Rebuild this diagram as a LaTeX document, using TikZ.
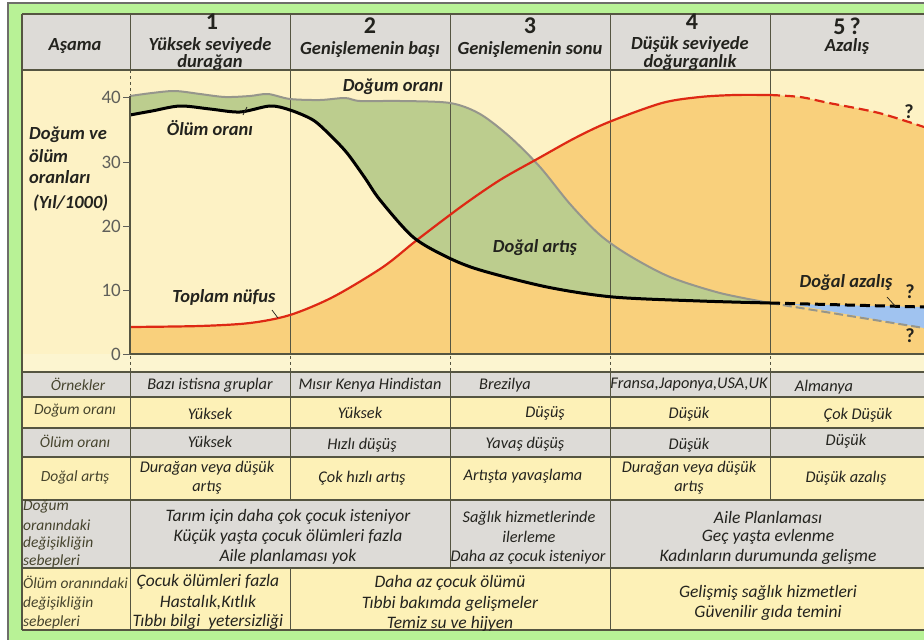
\documentclass[tikz,border=0pt]{standalone}
\usepackage{fontspec}
\setmainfont{Carlito}
\definecolor{bggreen}{RGB}{184,242,150}
\definecolor{framec}{RGB}{110,110,105}
\definecolor{cellgray}{RGB}{221,219,215}
\definecolor{chartbg}{RGB}{253,242,197}
\definecolor{stripbg}{RGB}{252,245,208}
\definecolor{cellyel}{RGB}{253,241,183}
\definecolor{orangef}{RGB}{249,208,124}
\definecolor{greenf}{RGB}{188,205,142}
\definecolor{bluef}{RGB}{160,195,240}
\definecolor{birthc}{RGB}{150,150,140}
\definecolor{redc}{RGB}{222,40,20}
\definecolor{gridc}{RGB}{85,85,65}
\definecolor{textc}{RGB}{35,35,30}
\definecolor{lblc}{RGB}{70,68,45}
\definecolor{axc}{RGB}{95,95,90}
\tikzset{
  txt/.style={font=\fontsize{16.3}{17}\selectfont\itshape, text=textc, inner sep=0pt},
  txtb/.style={font=\fontsize{17.5}{18}\selectfont\itshape, text=textc, inner sep=0pt},
  lbl/.style={font=\fontsize{15.5}{16}\selectfont\itshape, text=lblc, inner sep=0pt},
  hdr/.style={font=\fontsize{18.5}{19}\selectfont\bfseries\itshape, text=textc, inner sep=0pt},
  hnum/.style={font=\fontsize{24}{24}\selectfont\bfseries, text=textc, inner sep=0pt},
  clab/.style={font=\fontsize{18.5}{19}\selectfont\bfseries\itshape, text=textc, inner sep=0pt},
  axnum/.style={font=\fontsize{19}{19}\selectfont, text=axc, inner sep=0pt, anchor=east},
  qm/.style={font=\fontsize{20}{20}\selectfont\bfseries, text=textc, inner sep=0pt},
  gridline/.style={draw=gridc, line width=0.9pt},
  dgrid/.style={draw=gridc, line width=0.9pt, dash pattern=on 3pt off 3pt},
  rowline/.style={draw=gridc, line width=1.3pt},
  pointer/.style={draw=textc, line width=0.7pt}
}
\begin{document}
\begin{tikzpicture}[x=1pt,y=-1pt]
\useasboundingbox (0,0) rectangle (924,640);
\fill[white] (0,0) rectangle (924,640);
\fill[bggreen] (8,3) rectangle (924,640);
\draw[framec, line width=1.5pt] (8,640) -- (8,3) -- (924,3);
% backgrounds
\fill[cellgray] (22,14) rectangle (924,70);
\fill[chartbg] (22,70) rectangle (924,354);
\fill[stripbg] (22,354) rectangle (924,372);
\fill[cellgray] (22,372) rectangle (924,397);
\fill[cellyel] (22,397) rectangle (924,428);
\fill[cellgray] (22,428) rectangle (924,457);
\fill[cellyel] (22,457) rectangle (924,500);
\fill[cellgray] (22,500) rectangle (924,568);
\fill[cellyel] (22,568) rectangle (924,630);
% orange area under total population
\fill[orangef] plot[smooth] coordinates {(130,327) (200,326) (250,323) (290,315) (333,297) (383,267) (417,240) (462,206) (500,180) (539,158) (575,138) (609,122) (662,103) (700,97) (735,95) (770,95) (800,97) (829,103) (879,113) (924,127)} -- (924,354) -- (130,354) -- cycle;
% natural increase area
\fill[greenf] plot[smooth] coordinates {(130,96) (152,93) (175,91) (200,94) (225,97) (250,96) (268,94) (290,99) (320,100) (345,98) (360,101) (400,101) (450,103) (480,114) (510,137) (540,167) (570,204) (600,235) (630,256) (670,277) (720,293) (770,303)} -- plot[smooth] coordinates {(770,303) (700,301) (613,297) (547,287) (480,270) (447,257) (413,237) (380,200) (365,178) (347,153) (330,135) (313,120) (290,110) (270,106) (240,112) (210,109) (180,106) (152,111) (130,115)} -- cycle;
% natural decrease
\fill[bluef] (790,304) -- (924,307) -- (924,328) -- cycle;
% vertical grid lines
\foreach \cx in {130,290,450,610,770} {
  \draw[gridline] (\cx,14) -- (\cx,70);
  \draw[dgrid] (\cx,356) -- (\cx,372);
  \draw[gridline] (\cx,372) -- (\cx,500);
}
\draw[dgrid] (130,70) -- (130,96);
\foreach \cx in {290,450,610,770} { \draw[gridline] (\cx,70) -- (\cx,354); }
\foreach \cx in {130,450,610} { \draw[gridline] (\cx,500) -- (\cx,568); }
\foreach \cx in {130,290,610} { \draw[gridline] (\cx,568) -- (\cx,630); }
% horizontal lines
\draw[rowline] (22,14) -- (924,14);
\draw[rowline] (22,70) -- (924,70);
\foreach \ry in {372,397,428,457,500,568,630} { \draw[rowline] (22,\ry) -- (924,\ry); }
\draw[rowline] (22,14) -- (22,630);
% curves
\draw[birthc, line width=2pt] plot[smooth] coordinates {(130,96) (152,93) (175,91) (200,94) (225,97) (250,96) (268,94) (290,99) (320,100) (345,98) (360,101) (400,101) (450,103) (480,114) (510,137) (540,167) (570,204) (600,235) (630,256) (670,277) (720,293) (770,303)};
\draw[birthc, line width=2pt, dash pattern=on 9pt off 4pt] (770,303) -- (924,328);
\draw[redc, line width=2.2pt] plot[smooth] coordinates {(130,327) (200,326) (250,323) (290,315) (333,297) (383,267) (417,240) (462,206) (500,180) (539,158) (575,138) (609,122) (662,103) (700,97) (735,95) (770,95)};
\draw[redc, line width=2.2pt, dash pattern=on 10pt off 5pt] plot[smooth] coordinates {(770,95) (800,97) (829,103) (879,113) (924,127)};
\draw[black, line width=3pt] plot[smooth] coordinates {(130,115) (152,111) (180,106) (210,109) (240,112) (270,106) (290,110) (313,120) (330,135) (347,153) (365,178) (380,200) (413,237) (447,257) (480,270) (547,287) (613,297) (700,301) (770,303)};
\draw[black, line width=3pt, dash pattern=on 10pt off 5pt] (770,303) -- (924,307);
% axis
\draw[gridc, line width=1.3pt] (130,96) -- (130,354) -- (924,354);
\foreach \v/\yy in {40/97,30/162,20/226,10/290,0/354} {
  \draw[axc, line width=1pt] (123,\yy) -- (130,\yy);
  \node[axnum] (ax\v) at (121,\yy) {\v};
}
% header
\node[hdr] (hA) at (75,46) {Aşama};
\node[hnum] (n1) at (212,22) {1};
\node[hdr] (h1a) at (210,45) {Yüksek seviyede};
\node[hdr] (h1b) at (210,63) {durağan};
\node[hnum] (n2) at (370,26) {2};
\node[hdr] (h2) at (370,50) {Genişlemenin başı};
\node[hnum] (n3) at (530,26) {3};
\node[hdr] (h3) at (530,50) {Genişlemenin sonu};
\node[hnum] (n4) at (692,22) {4};
\node[hdr] (h4a) at (690,45) {Düşük seviyede};
\node[hdr] (h4b) at (690,63) {doğurganlık};
\node[hnum] (n5) at (847,26) {5\,?};
\node[hdr] (h5) at (847,47) {Azalış};
% chart labels
\node[clab, anchor=west] (ya) at (29,135) {Doğum ve};
\node[clab, anchor=west] (yb) at (29,156) {ölüm};
\node[clab, anchor=west] (yc) at (29,177) {oranları};
\node[clab, anchor=west] (yd) at (33,203) {(Yıl/1000)};
\node[clab] (lbirth) at (393,87) {Doğum oranı};
\node[clab] (ldeath) at (210,128) {Ölüm oranı};
\node[clab] (linc) at (535,248) {Doğal artış};
\node[clab] (lpop) at (224,297) {Toplam nüfus};
\node[clab] (ldec) at (846,283) {Doğal azalış};
\node[qm] (q1) at (909,112) {?};
\node[qm] (q2) at (910,292) {?};
\node[qm] (q3) at (910,336) {?};
\coordinate (pd0) at (243,115);
\coordinate (pd) at (247,107);
\draw[pointer] (pd0) -- (pd);
\coordinate (pp0) at (272,310);
\coordinate (pp) at (278,318);
\draw[pointer] (pp0) -- (pp);
\coordinate (pz0) at (887,297);
\coordinate (pz) at (896,307);
\draw[pointer] (pz0) -- (pz);
% row 1
\node[lbl] (r1l) at (78,384) {Örnekler};
\node[txt] (r1a) at (210,385) {Bazı istisna gruplar};
\node[txt] (r1b) at (370,385) {Mısır Kenya Hindistan};
\node[txt, anchor=west] (r1c) at (479,385) {Brezilya};
\node[txt] (r1d) at (689,385) {Fransa,Japonya,USA,UK};
\node[txt] (r1e) at (824,387) {Almanya};
% row 2
\node[lbl] (r2l) at (75,411) {Doğum oranı};
\node[txt] (r2a) at (210,414) {Yüksek};
\node[txt] (r2b) at (360,413) {Yüksek};
\node[txt] (r2c) at (545,413) {Düşüş};
\node[txt] (r2d) at (689,414) {Düşük};
\node[txt] (r2e) at (858,415) {Çok Düşük};
% row 3
\node[lbl] (r3l) at (75,441) {Ölüm oranı};
\node[txt] (r3a) at (210,442) {Yüksek};
\node[txt] (r3b) at (362,445) {Hızlı düşüş};
\node[txt] (r3c) at (525,444) {Yavaş düşüş};
\node[txt] (r3d) at (689,445) {Düşük};
\node[txt] (r3e) at (846,441) {Düşük};
% row 4
\node[lbl] (r4l) at (75,477) {Doğal artış};
\node[txt] (r4a1) at (207,468) {Durağan veya düşük};
\node[txt] (r4a2) at (207,488) {artış};
\node[txt] (r4b) at (362,478) {Çok hızlı artış};
\node[txt] (r4c) at (523,476) {Artışta yavaşlama};
\node[txt] (r4d1) at (689,468) {Durağan veya düşük};
\node[txt] (r4d2) at (689,488) {artış};
\node[txt] (r4e) at (846,478) {Düşük azalış};
% row 5
\node[lbl, anchor=west] (r5l1) at (23,507) {Doğum};
\node[lbl, anchor=west] (r5l2) at (23,525) {oranındaki};
\node[lbl, anchor=west] (r5l3) at (23,543) {değişikliğin};
\node[lbl, anchor=west] (r5l4) at (23,561) {sebepleri};
\node[txtb] (r5a1) at (288,517) {Tarım için daha çok çocuk isteniyor};
\node[txtb] (r5a2) at (288,537) {Küçük yaşta çocuk ölümleri fazla};
\node[txtb] (r5a3) at (288,557) {Aile planlaması yok};
\node[txt] (r5b1) at (529,518) {Sağlık hizmetlerinde};
\node[txt] (r5b2) at (529,537) {ilerleme};
\node[txt] (r5b3) at (528,557) {Daha az çocuk isteniyor};
\node[txtb] (r5c1) at (768,517) {Aile Planlaması};
\node[txtb] (r5c2) at (768,537) {Geç yaşta evlenme};
\node[txtb] (r5c3) at (768,557) {Kadınların durumunda gelişme};
% row 6
\node[lbl, anchor=west] (r6l1) at (23,582) {Ölüm oranındaki};
\node[lbl, anchor=west] (r6l2) at (23,603) {değişikliğin};
\node[lbl, anchor=west] (r6l3) at (23,622) {sebepleri};
\node[txtb] (r6a1) at (208,582) {Çocuk ölümleri fazla};
\node[txtb] (r6a2) at (208,603) {Hastalık,Kıtlık};
\node[txtb] (r6a3) at (208,622) {Tıbbı bilgi\ \ yetersizliği};
\node[txtb] (r6b1) at (450,583) {Daha az çocuk ölümü};
\node[txtb] (r6b2) at (450,604) {Tıbbi bakımda gelişmeler};
\node[txtb] (r6b3) at (450,624) {Temiz su ve hijyen};
\node[txtb] (r6c1) at (768,593) {Gelişmiş sağlık hizmetleri};
\node[txtb] (r6c2) at (768,613) {Güvenilir gıda temini};
\end{tikzpicture}
\end{document}
